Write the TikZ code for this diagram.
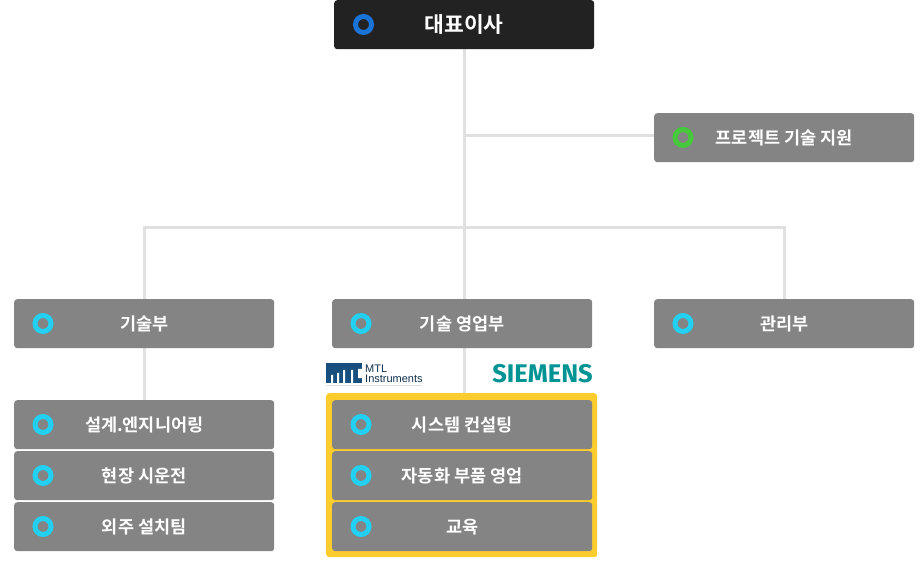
\documentclass[tikz,border=0pt]{standalone}
\usepackage{fontspec}
\setmainfont{Noto Sans CJK KR}[BoldFont={Noto Sans CJK KR Bold}]
\setsansfont{Liberation Sans}
\newfontfamily\siemensfont{Fira Sans}[UprightFont={* Bold}]
\definecolor{boxgray}{HTML}{848484}
\definecolor{boxdark}{HTML}{222222}
\definecolor{linegray}{HTML}{E0E0E0}
\definecolor{ringblue}{HTML}{1A74D8}
\definecolor{ringgreen}{HTML}{46C83C}
\definecolor{ringcyan}{HTML}{22D0F4}
\definecolor{frameyellow}{HTML}{FFCC2E}
\definecolor{siemensteal}{HTML}{009393}
\definecolor{mtlblue}{HTML}{17507F}
\tikzset{
  x=1pt,y=-1pt,
  orgbox/.style={fill=boxgray,rounded corners=3pt,minimum width=260pt,minimum height=49pt,inner sep=0pt,anchor=north west,text=white,font=\bfseries\fontsize{17.5}{19}\selectfont},
  topbox/.style={orgbox,fill=boxdark,font=\bfseries\fontsize{21.5}{23}\selectfont},
  ring/.style={circle,draw=#1,line width=5pt,minimum size=16pt,inner sep=0pt},
  link/.style={draw=linegray,line width=3pt},
}
\begin{document}
\begin{tikzpicture}
\useasboundingbox (0,0) rectangle (924,561);
\coordinate (j1) at (464,136);
\coordinate (j2) at (464,228);
\coordinate (jl) at (144,228);
\coordinate (jr) at (784,228);
\coordinate (jm) at (464,299);
\coordinate (jb) at (464,393);
\coordinate (jt) at (464,49);
\coordinate (ju) at (144,400);
\coordinate (jn) at (144,348);
\coordinate (js) at (464,348);
\coordinate (supl) at (654,136);
\coordinate (jlb) at (144,299);
\coordinate (jrb) at (784,299);
% connectors
\draw[link] (jt) -- (jm);
\draw[link] (j1) -- (supl);
\draw[link] (jlb) -- (jl) -- (jr) -- (jrb);
\draw[link] (jn) -- (ju);
\draw[link] (js) -- (jb);
% yellow frame
\node[fill=frameyellow,rounded corners=3pt,minimum width=271pt,minimum height=164pt,inner sep=0pt,anchor=north west] (frame) at (326,393) {};
% boxes
\node[topbox] (ceo) at (334,0) {대표이사};
\node[orgbox] (support) at (654,113) {프로젝트 기술 지원};
\node[orgbox] (tech) at (14,299) {기술부};
\node[orgbox] (sales) at (332,299) {기술 영업부};
\node[orgbox] (admin) at (654,299) {관리부};
\node[orgbox] (t1) at (14,400) {설계.엔지니어링};
\node[orgbox] (t2) at (14,451) {현장 시운전};
\node[orgbox] (t3) at (14,502) {외주 설치팀};
\node[orgbox] (s1) at (332,400) {시스템 컨설팅};
\node[orgbox] (s2) at (332,451) {자동화 부품 영업};
\node[orgbox] (s3) at (332,502) {교육};
% rings
\node[ring=ringblue] (r0) at (363.5,24.5) {};
\node[ring=ringgreen] (r1) at (683,137.5) {};
\foreach \n/\x/\y in {a/43/323.5,b/361/323.5,c/683/323.5,d/43/424.5,e/43/475.5,f/43/526.5,g/361/424.5,h/361/475.5,i/361/526.5}
  \node[ring=ringcyan] (r\n) at (\x,\y) {};
% MTL logo
\fill[mtlblue] (326,363) rectangle (362,383);
\fill[white] (331,375) rectangle (333,383) (337,373) rectangle (339,383) (343,370) rectangle (345,383)
  (351,370) rectangle (353,383) (358,369) rectangle (362,378);
\node[font=\sffamily\fontsize{11}{10.5}\selectfont,text=mtlblue!60!black,align=left,anchor=west,inner sep=0pt] (mtl) at (365,374) {MTL\\Instruments};
\draw[linegray,line width=.8pt] (326,385) -- (422,385);
% Siemens logo
\node[font=\siemensfont\fontsize{25.5}{26}\selectfont,text=siemensteal,anchor=east,inner sep=0pt] (siemens) at (593,374) {SIEMENS};
\end{tikzpicture}
\end{document}
